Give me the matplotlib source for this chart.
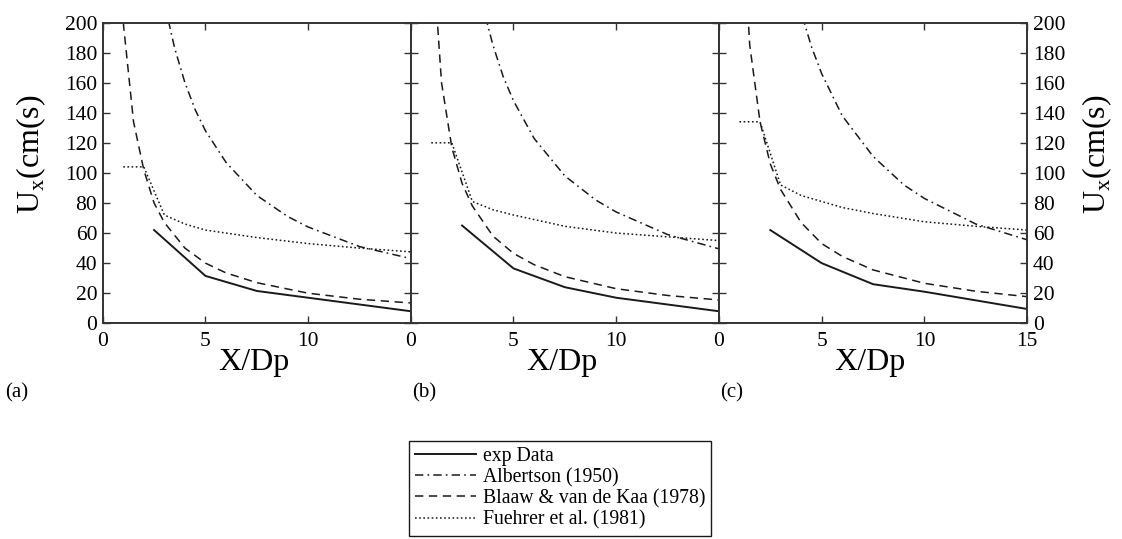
import matplotlib
matplotlib.use("Agg")
import matplotlib.pyplot as plt

plt.rcParams['font.family'] = ['Liberation Serif', 'DejaVu Serif']
plt.rcParams['mathtext.fontset'] = 'custom'
plt.rcParams['mathtext.rm'] = 'Liberation Serif'
plt.rcParams['lines.scale_dashes'] = False

# ---- data ----
panel_labels = ['(a)', '(b)', '(c)']
series_names = ['exp Data', 'Albertson (1950)', 'Blaaw & van de Kaa (1978)', 'Fuehrer et al. (1981)']

exp_x = [2.5, 5, 7.5, 10, 15]
exp_a = [62, 31.5, 21.5, 17, 8]
exp_b = [65, 36.5, 24, 17, 8]
exp_c = [62, 40, 26, 21, 9.5]

alb_x = [3, 3.5, 4, 4.5, 5, 6, 7.5, 9, 10, 12.5, 15]
alb_a = [213, 183, 160, 142, 128, 107, 85, 71, 64, 51, 43]
alb_b = [247, 211, 185, 164, 148, 123, 98, 82, 74, 59, 49.5]
alb_c = [277, 237, 207, 184, 166, 138, 111, 92, 83, 66, 55.5]

bla_x = [1, 1.5, 2, 2.5, 3, 4, 5, 6, 7.5, 10, 12.5, 15]
bla_a = [200, 134, 102, 80, 67, 50, 40, 33.5, 27, 20, 16, 13.5]
bla_b = [260, 160, 117, 93, 78, 58, 46.5, 39, 31, 23, 18.5, 15.5]
bla_c = [300, 185, 134, 106, 89, 67, 53, 44.5, 35.5, 26.6, 21.3, 17.7]

fue_x = [1, 2, 3, 4, 5, 6, 7.5, 10, 12.5, 15]
fue_a = [104, 104, 72, 66, 62, 60, 57, 53, 50, 47.5]
fue_b = [120, 120, 81, 75.5, 72, 69, 64.5, 60, 57.5, 55]
fue_c = [134, 134, 92, 85, 81, 77, 73, 67.5, 64.5, 62]

y_ticks = list(range(0, 201, 20))
x_ticks_ab = [0, 5, 10]
x_ticks_c = [0, 5, 10, 15]

panels = [
    (exp_a, alb_a, bla_a, fue_a),
    (exp_b, alb_b, bla_b, fue_b),
    (exp_c, alb_c, bla_c, fue_c),
]

# ---- figure ----
W, H = 1122, 539
fig = plt.figure(figsize=(W / 100, H / 100), dpi=100)

ink = '#1a1a1a'
spine_col = '#333333'
lefts = [102.7, 410.7, 718.9]
label_x = [5, 412, 720]
pw = 308.3
bottom_px = 323.3
top_px = 22.5

handles = None
for i, (ex, al, bl, fu) in enumerate(panels):
    ax = fig.add_axes([lefts[i] / W, 1 - bottom_px / H, pw / W, (bottom_px - top_px) / H])
    l1, = ax.plot(exp_x, ex, color=ink, lw=1.4, ls='-')
    l2, = ax.plot(alb_x, al, color=ink, lw=1.1, ls=(0, (6, 3, 1.2, 3)))
    l3, = ax.plot(bla_x, bl, color=ink, lw=1.1, ls=(0, (6, 4)))
    l4, = ax.plot(fue_x, fu, color=ink, lw=1.1, ls=(0, (1.2, 1.8)))
    handles = [l1, l2, l3, l4]
    ax.set_xlim(0, 15)
    ax.set_ylim(0, 200)
    ax.set_yticks(y_ticks)
    if i < 2:
        ax.set_xticks(x_ticks_ab)
    else:
        ax.set_xticks(x_ticks_c)
    ax.tick_params(direction='in', top=True, right=True, length=5, width=1.0,
                   color=spine_col, labelsize=15.5)
    ax.tick_params(axis='y', pad=4)
    ax.tick_params(axis='x', pad=6)
    for s in ax.spines.values():
        s.set_linewidth(1.4)
        s.set_color(spine_col)
    if i == 0:
        ax.set_ylabel(r'U$_\mathrm{x}$(cm(s)', fontsize=23)
        ax.yaxis.set_label_coords(-0.178, 0.563)
    elif i == 1:
        ax.tick_params(labelleft=False)
    else:
        ax.tick_params(labelleft=False, labelright=True)
        ax.yaxis.set_label_position('right')
        ax.set_ylabel(r'U$_\mathrm{x}$(cm(s)', fontsize=23)
        ax.yaxis.set_label_coords(1.172, 0.563)
    ax.set_xlabel('X/Dp', fontsize=23)
    ax.xaxis.set_label_coords(0.49, -0.082)
    fig.text(label_x[i] / W, 1 - 393 / H, panel_labels[i], fontsize=15,
             ha='left', va='center')

leg = fig.legend(handles, series_names, loc='upper left',
                 bbox_to_anchor=(409 / W, 1 - 441 / H), fontsize=14.2,
                 frameon=True, fancybox=False, edgecolor=ink, framealpha=1,
                 handlelength=3.1, handletextpad=0.35, labelspacing=0.1,
                 borderpad=0.3, borderaxespad=0)
leg.get_frame().set_linewidth(1.0)

fig.savefig('out.png', dpi=100)
